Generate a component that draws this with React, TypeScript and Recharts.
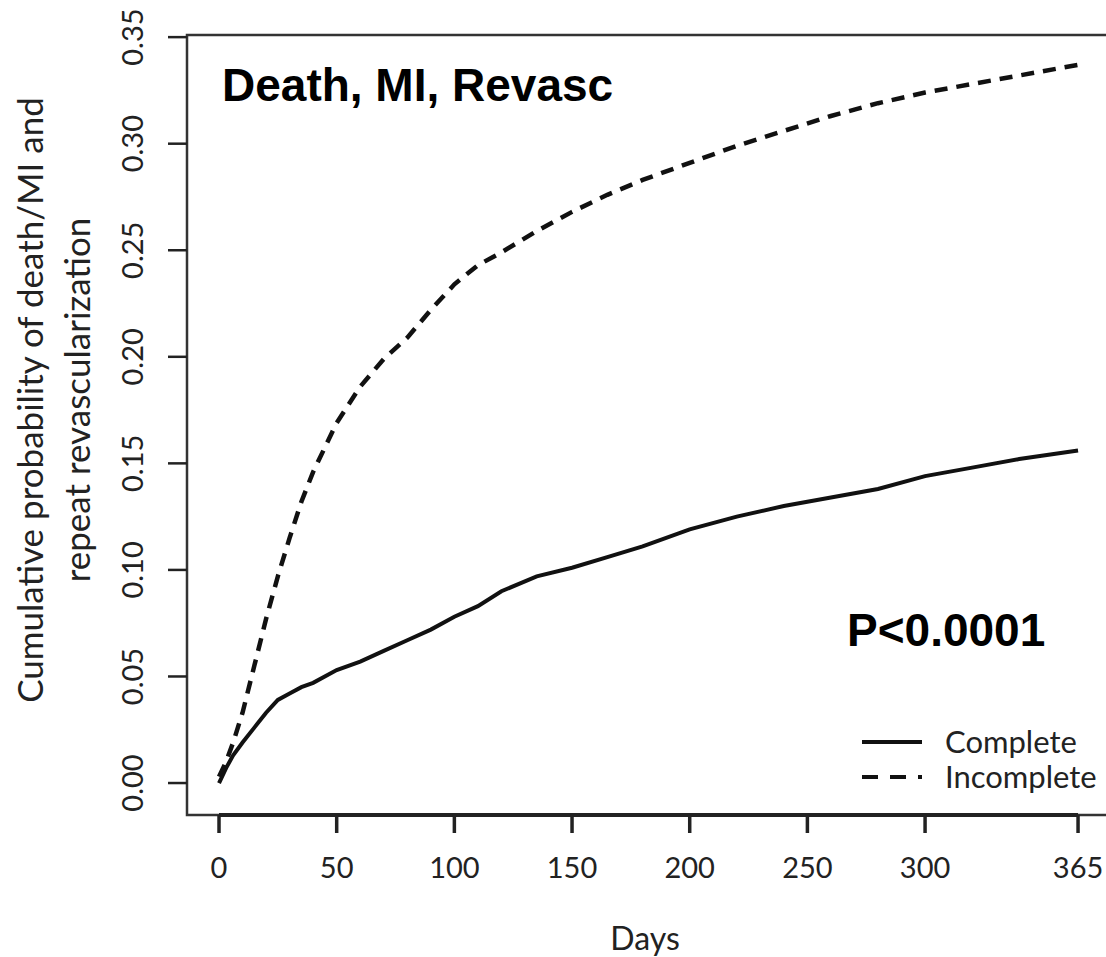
import React from "react";
import {
  LineChart,
  Line,
  XAxis,
  YAxis,
  ReferenceArea,
  ReferenceLine,
} from "recharts";

const days = [
  0, 3, 6, 10, 15, 20, 25, 30, 35, 40, 50, 60, 70, 80, 90, 100, 110, 120, 135,
  150, 165, 180, 200, 220, 240, 260, 280, 300, 320, 340, 365,
];

const complete = [
  0.0, 0.007, 0.013, 0.019, 0.026, 0.033, 0.039, 0.042, 0.045, 0.047, 0.053,
  0.057, 0.062, 0.067, 0.072, 0.078, 0.083, 0.09, 0.097, 0.101, 0.106, 0.111,
  0.119, 0.125, 0.13, 0.134, 0.138, 0.144, 0.148, 0.152, 0.156,
];

const incomplete = [
  0.003, 0.01, 0.019, 0.033, 0.055, 0.077, 0.097, 0.115, 0.132, 0.146, 0.169,
  0.186, 0.199, 0.209, 0.222, 0.234, 0.243, 0.249, 0.259, 0.268, 0.276, 0.283,
  0.291, 0.299, 0.306, 0.313, 0.319, 0.324, 0.328, 0.332, 0.337,
];

const xTicks = [0, 50, 100, 150, 200, 250, 300, 365];
const yTicks = [0, 0.05, 0.1, 0.15, 0.2, 0.25, 0.3, 0.35];

const data = days.map((d, i) => ({
  day: d,
  complete: complete[i],
  incomplete: incomplete[i],
}));

const X_DOMAIN = [-13.6, 380.7];
const Y_DOMAIN = [-0.015, 0.351];

const sans = "Lato, 'Open Sans', sans-serif";
const bold = "'Liberation Sans', Arial, sans-serif";
const ink = "#222";

const XTick = (props: any) => {
  const { x, y, payload } = props;
  return (
    <text
      x={x}
      y={y + 43}
      textAnchor="middle"
      fontFamily={sans}
      fontSize={29}
      fill={ink}
    >
      {payload.value}
    </text>
  );
};

const YTick = (props: any) => {
  const { x, y, payload } = props;
  const cx = x - 23;
  return (
    <text
      x={cx}
      y={y}
      transform={`rotate(-90, ${cx}, ${y})`}
      textAnchor="middle"
      fontFamily={sans}
      fontSize={29}
      fill={ink}
    >
      {Number(payload.value).toFixed(2)}
    </text>
  );
};

export default function App() {
  return (
    <div
      style={{
        position: "absolute",
        left: 0,
        top: 0,
        width: 1106,
        height: 957,
        overflow: "hidden",
        background: "#fff",
      }}
    >
      <LineChart
        width={1130}
        height={957}
        data={data}
        margin={{ top: 35, right: 15, left: 0, bottom: 0 }}
      >
        <XAxis
          dataKey="day"
          type="number"
          domain={X_DOMAIN}
          ticks={xTicks}
          allowDataOverflow
          height={142}
          axisLine={false}
          tickSize={18}
          tickLine={{ stroke: ink, strokeWidth: 3.5 }}
          tick={<XTick />}
        />
        <YAxis
          type="number"
          domain={Y_DOMAIN}
          ticks={yTicks}
          allowDataOverflow
          width={187}
          axisLine={false}
          tickSize={19}
          tickLine={{ stroke: ink, strokeWidth: 2.5 }}
          tick={<YTick />}
        />
        <ReferenceArea
          x1={X_DOMAIN[0]}
          x2={X_DOMAIN[1]}
          y1={Y_DOMAIN[0]}
          y2={Y_DOMAIN[1]}
          fill="none"
          stroke="#333"
          strokeWidth={2.5}
          ifOverflow="visible"
        />
        <ReferenceLine
          segment={[
            { x: 0, y: Y_DOMAIN[0] },
            { x: 365, y: Y_DOMAIN[0] },
          ]}
          stroke={ink}
          strokeWidth={4}
          ifOverflow="visible"
        />
        <Line
          type="linear"
          dataKey="complete"
          stroke="#111"
          strokeWidth={4}
          dot={false}
          isAnimationActive={false}
        />
        <Line
          type="linear"
          dataKey="incomplete"
          stroke="#111"
          strokeWidth={4.5}
          strokeDasharray="13 9"
          dot={false}
          isAnimationActive={false}
        />
        {/* legend, drawn by hand like the R plot */}
        <g>
          <line x1={862} y1={742} x2={922} y2={742} stroke="#111" strokeWidth={4} />
          <line
            x1={862}
            y1={777}
            x2={922}
            y2={777}
            stroke="#111"
            strokeWidth={4}
            strokeDasharray="16 12"
          />
          <text x={945} y={753} fontFamily={sans} fontSize={31} fill={ink}>
            Complete
          </text>
          <text x={945} y={788} fontFamily={sans} fontSize={31} fill={ink}>
            Incomplete
          </text>
        </g>
        <text
          x={222}
          y={101}
          fontFamily={bold}
          fontWeight="bold"
          fontSize={46}
          fill="#000"
        >
          Death, MI, Revasc
        </text>
        <text
          x={847}
          y={646}
          fontFamily={bold}
          fontWeight="bold"
          fontSize={46}
          fill="#000"
        >
          P&lt;0.0001
        </text>
        <text
          x={645}
          y={950}
          textAnchor="middle"
          fontFamily={sans}
          fontSize={32}
          fill={ink}
        >
          Days
        </text>
        <text
          x={43}
          y={400}
          transform="rotate(-90, 43, 400)"
          textAnchor="middle"
          fontFamily={sans}
          fontSize={35}
          fill={ink}
        >
          Cumulative probability of death/MI and
        </text>
        <text
          x={90}
          y={400}
          transform="rotate(-90, 90, 400)"
          textAnchor="middle"
          fontFamily={sans}
          fontSize={35}
          fill={ink}
        >
          repeat revascularization
        </text>
      </LineChart>
    </div>
  );
}
